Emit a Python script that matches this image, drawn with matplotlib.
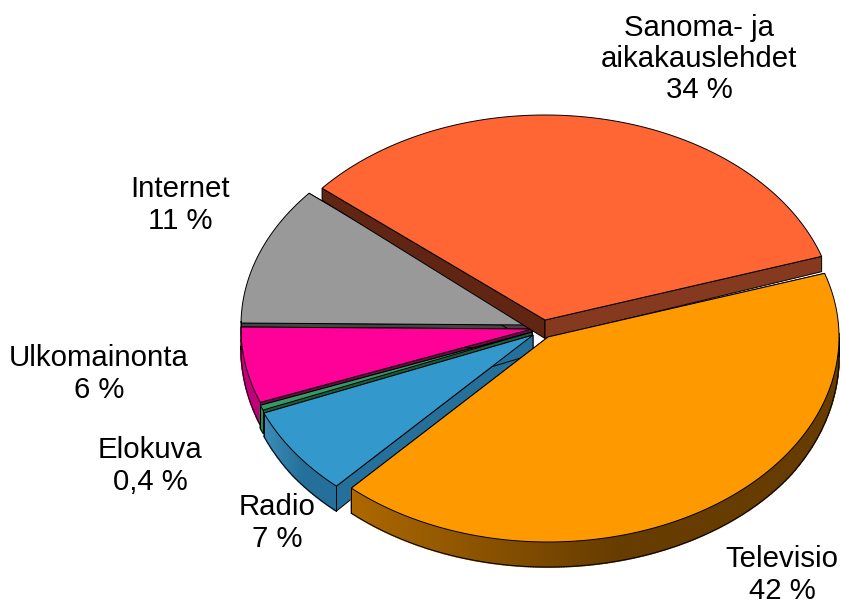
import numpy as np
import matplotlib
matplotlib.use("Agg")
import matplotlib.pyplot as plt
from matplotlib.patches import Polygon

plt.rcParams["font.family"] = ["Liberation Sans", "DejaVu Sans"]

# data
labels = ["Sanoma- ja\naikakauslehdet", "Televisio", "Radio", "Elokuva", "Ulkomainonta", "Internet"]
values = [34, 42, 7, 0.4, 6, 11]

# style, one entry per slice
top_colors = ["#FF6633", "#FF9900", "#3399CC", "#339966", "#FF0099", "#999999"]
cut_colors = [("#612513", "#85391E"), ("#A86400", "#663C00"), ("#24709A", "#24709A"),
              ("#1D5C3B", "#1D5C3B"), ("#80004D", "#80004D"), ("#444444", "#444444")]
wall_left = ["#85391E", "#AD6800", "#3C8DBA", "#2A8A55", "#D0007F", "#777777"]
wall_right = ["#85391E", "#663C00", "#24709A", "#2A8A55", "#C0007A", "#777777"]
centers = [(545, 320), (548, 337), (533, 335), (532, 332), (532, 329), (532, 325)]
label_pos = [(699, 59), (782, 575), (277, 523), (150, 466), (99, 374), (180, 205)]

START = 140.0
RX, RY = 291, 205
EDGE = 0.7


def depth(y):
    return np.clip(12 + (y - 190) * 0.05, 12, 25)


def rim(center, angles):
    a = np.radians(angles)
    return center[0] + RX * np.cos(a), center[1] - RY * np.sin(a)


def mix(c1, c2, t):
    c1 = np.array(matplotlib.colors.to_rgb(c1))
    c2 = np.array(matplotlib.colors.to_rgb(c2))
    return tuple(c1 + (c2 - c1) * t)


def draw_slice(ax, i, a0, a1):
    c = centers[i]
    ang = np.linspace(a0, a1, max(int(abs(a1 - a0) * 2), 3))
    xs, ys = rim(c, ang)

    # the two straight cut walls
    for k, (x, y) in enumerate([(xs[0], ys[0]), (xs[-1], ys[-1])]):
        quad = [(c[0], c[1]), (x, y), (x, y + depth(y)), (c[0], c[1] + depth(c[1]))]
        ax.add_patch(Polygon(quad, closed=True, fc=cut_colors[i][k], ec="black", lw=EDGE))

    # outer wall, only the part facing the viewer
    mask = np.sin(np.radians(ang)) < 0.02
    if mask.sum() > 1:
        wx, wy = xs[mask], ys[mask]
        order = np.argsort(wx)
        wx, wy = wx[order], wy[order]
        span = max(wx[-1] - wx[0], 1)
        for j in range(len(wx) - 1):
            t = min((wx[j] - wx[0]) / (span * 0.55), 1)
            col = mix(wall_left[i], wall_right[i], t)
            seg = [(wx[j], wy[j]), (wx[j + 1], wy[j + 1]),
                   (wx[j + 1], wy[j + 1] + depth(wy[j + 1])), (wx[j], wy[j] + depth(wy[j]))]
            ax.add_patch(Polygon(seg, closed=True, fc=col, ec=col, lw=1.2))
        ax.plot(wx, wy + depth(wy), color="black", lw=EDGE)
        ax.plot([wx[0], wx[0]], [wy[0], wy[0] + depth(wy[0])], color="black", lw=EDGE)
        ax.plot([wx[-1], wx[-1]], [wy[-1], wy[-1] + depth(wy[-1])], color="black", lw=EDGE)

    # top face
    pts = [c] + list(zip(xs, ys))
    ax.add_patch(Polygon(pts, closed=True, fc=top_colors[i], ec="black", lw=EDGE))


fig = plt.figure(figsize=(8.42, 6.06), dpi=100)
ax = fig.add_axes([0, 0, 1, 1])
ax.set_xlim(0, 842)
ax.set_ylim(606, 0)
ax.axis("off")

total = sum(values)
edges = START - np.cumsum([0] + values) * 360.0 / total

# back to front so the nearer slices cover the others
for i in [5, 4, 3, 2, 0, 1]:
    draw_slice(ax, i, edges[i], edges[i + 1])

for name, v, pos in zip(labels, values, label_pos):
    txt = f"{v:g}".replace(".", ",") + " %"
    ax.text(pos[0], pos[1], name + "\n" + txt, ha="center", va="center",
            fontsize=21.2, linespacing=1.15, color="black", clip_on=False)

fig.savefig("out.png", dpi=100)
